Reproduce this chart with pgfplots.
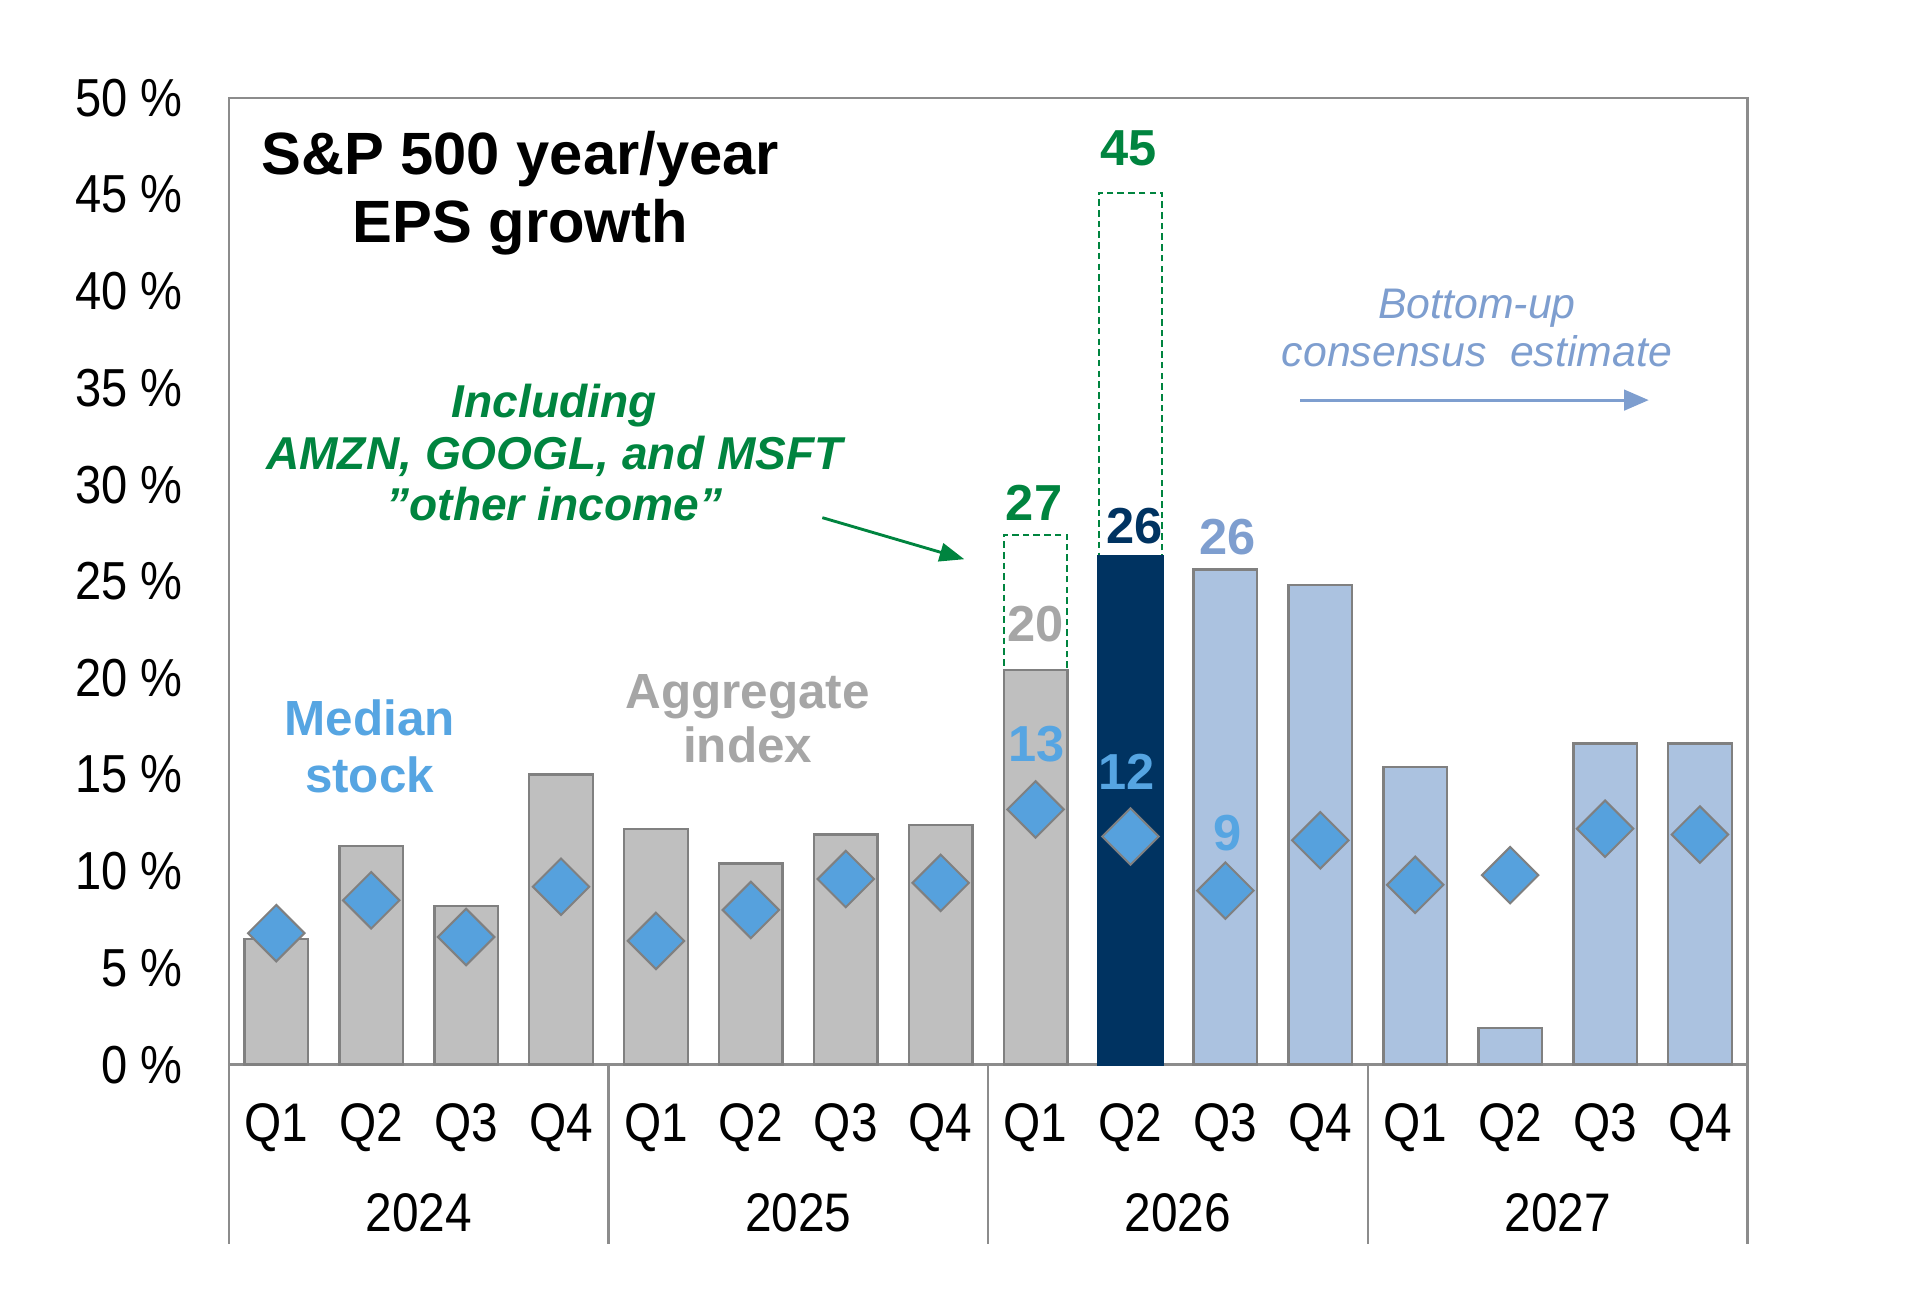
\documentclass[border=0pt]{standalone}
\usepackage{pgfplots}
\pgfplotsset{compat=1.18}
\usetikzlibrary{arrows.meta}
\usepackage{fontspec}
\setmainfont{Liberation Sans}
\newfontfamily\narrowfont[FakeStretch=0.88]{Liberation Sans}
\definecolor{greybar}{HTML}{BFBFBF}
\definecolor{bordergrey}{HTML}{808080}
\definecolor{axisgrey}{HTML}{8C8C8C}
\definecolor{lightbar}{HTML}{ABC2E0}
\definecolor{navybar}{HTML}{003361}
\definecolor{diam}{HTML}{56A1DD}
\definecolor{grn}{HTML}{00843F}
\definecolor{bup}{HTML}{7E9ECF}
\definecolor{aggtext}{HTML}{A6A6A6}
\definecolor{medtext}{HTML}{56A5E2}
\begin{document}
\begin{tikzpicture}
\path[use as bounding box] (-55.6pt,-60.06pt) rectangle (410.9pt,258.67pt);
\begin{axis}[
  at={(0,0)}, anchor=south west,
  scale only axis, width=368.97pt, height=234.88pt,
  xmin=-0.5, xmax=15.5, ymin=0, ymax=50,
  axis line style={draw=axisgrey, line width=0.6pt},
  ytick={0,5,10,15,20,25,30,35,40,45,50},
  yticklabels={0 \%,5 \%,10 \%,15 \%,20 \%,25 \%,30 \%,35 \%,40 \%,45 \%,50 \%},
  xtick={0,1,2,3,4,5,6,7,8,9,10,11,12,13,14,15},
  xticklabels={Q1,Q2,Q3,Q4,Q1,Q2,Q3,Q4,Q1,Q2,Q3,Q4,Q1,Q2,Q3,Q4},
  major tick length=0pt,
  tick style={draw=none},
  yticklabel style={font=\narrowfont\fontsize{13}{13}\selectfont, anchor=east, inner sep=0pt, xshift=-11.0pt},
  xticklabel style={font=\narrowfont\fontsize{13.2}{13.2}\selectfont, anchor=center, inner sep=0pt, yshift=-15.2pt},
  clip=false,
]
% dashed "including other income" boxes
\addplot[ybar, bar width=0.67, bar shift=0pt, fill=white, draw=grn, line width=0.5pt, dash pattern=on 1.6pt off 1pt]
  coordinates {(8,27.4) (9,45.1)};
% aggregate index, actual (grey)
\addplot[ybar, bar width=0.67, bar shift=0pt, fill=greybar, draw=bordergrey, line width=0.6pt]
  coordinates {(0,6.5) (1,11.3) (2,8.2) (3,15.0) (4,12.2) (5,10.4) (6,11.9) (7,12.4) (8,20.4)};
% 2026 Q2 (navy)
\addplot[ybar, bar width=0.67, bar shift=0pt, fill=navybar, draw=navybar, line width=0.6pt]
  coordinates {(9,26.3)};
% consensus estimates (light blue)
\addplot[ybar, bar width=0.67, bar shift=0pt, fill=lightbar, draw=bordergrey, line width=0.6pt]
  coordinates {(10,25.6) (11,24.8) (12,15.4) (13,1.9) (14,16.6) (15,16.6)};
% median stock (diamonds)
\addplot[only marks, mark=square*, mark size=4.85pt,
  mark options={rotate=45, fill=diam, draw=bordergrey, line width=0.5pt}]
  coordinates {(0,6.8) (1,8.5) (2,6.6) (3,9.2) (4,6.4) (5,8.0) (6,9.6) (7,9.4)
               (8,13.2) (9,11.8) (10,9.0) (11,11.6) (12,9.3) (13,9.8) (14,12.2) (15,11.9)};

% category separators and years
\foreach \s in {-0.5,3.5,7.5,11.5,15.5}{
  \edef\temp{\noexpand\draw[axisgrey, line width=0.6pt] (axis cs:\s,0) -- ([yshift=-43.7pt]axis cs:\s,0);}
  \temp
}
\foreach \c/\yr in {1.5/2024,5.5/2025,9.5/2026,13.5/2027}{
  \edef\temp{\noexpand\node[font=\noexpand\narrowfont\noexpand\fontsize{13.2}{13.2}\noexpand\selectfont, anchor=center, inner sep=0pt] at ([yshift=-36pt]axis cs:\c,0) {\yr};}
  \temp
}

% texts
\node[font=\bfseries\fontsize{14.5}{16.4}\selectfont, align=center, inner sep=0pt] at (axis cs:2.569,45.06) {S\&P 500 year/year\\EPS growth};
\node[font=\bfseries\fontsize{12}{13.7}\selectfont, text=medtext, align=center, inner sep=0pt] at (axis cs:0.983,16.46) {Median\\stock};
\node[font=\bfseries\fontsize{12}{13.1}\selectfont, text=aggtext, align=center, inner sep=0pt] at (axis cs:4.967,17.91) {Aggregate\\index};
\node[font=\bfseries\itshape\fontsize{11.2}{12.5}\selectfont, text=grn, align=center, inner sep=0pt] at (axis cs:2.93,31.65) {Including\\AMZN, GOOGL, and MSFT\\\symbol{34}other income\symbol{34}};
\node[font=\itshape\fontsize{10.4}{11.9}\selectfont, text=bup, align=center, inner sep=0pt] at (axis cs:12.65,38.1) {Bottom-up\\consensus\ \ estimate};
\draw[bup, line width=0.7pt, -{Triangle[length=6pt,width=5pt]}] (axis cs:10.79,34.37) -- (axis cs:14.46,34.37);
\draw[grn, line width=0.7pt, -{Triangle[length=6pt,width=4.5pt]}] (axis cs:5.753,28.29) -- (axis cs:7.249,26.14);

% value labels
\node[font=\bfseries\fontsize{12.3}{12.3}\selectfont, text=grn, inner sep=0pt] at (axis cs:7.984,29.05) {27};
\node[font=\bfseries\fontsize{12.3}{12.3}\selectfont, text=grn, inner sep=0pt] at (axis cs:8.977,47.41) {45};
\node[font=\bfseries\fontsize{12.3}{12.3}\selectfont, text=navybar, inner sep=0pt] at (axis cs:9.04,27.85) {26};
\node[font=\bfseries\fontsize{12.3}{12.3}\selectfont, text=bup, inner sep=0pt] at (axis cs:10.02,27.28) {26};
\node[font=\bfseries\fontsize{12.3}{12.3}\selectfont, text=aggtext, inner sep=0pt] at (axis cs:7.997,22.78) {20};
\node[font=\bfseries\fontsize{12.3}{12.3}\selectfont, text=medtext, inner sep=0pt] at (axis cs:8.01,16.58) {13};
\node[font=\bfseries\fontsize{12.3}{12.3}\selectfont, text=medtext, inner sep=0pt] at (axis cs:8.96,15.13) {12};
\node[font=\bfseries\fontsize{12.3}{12.3}\selectfont, text=medtext, inner sep=0pt] at (axis cs:10.02,11.96) {9};
\end{axis}
\end{tikzpicture}
\end{document}
